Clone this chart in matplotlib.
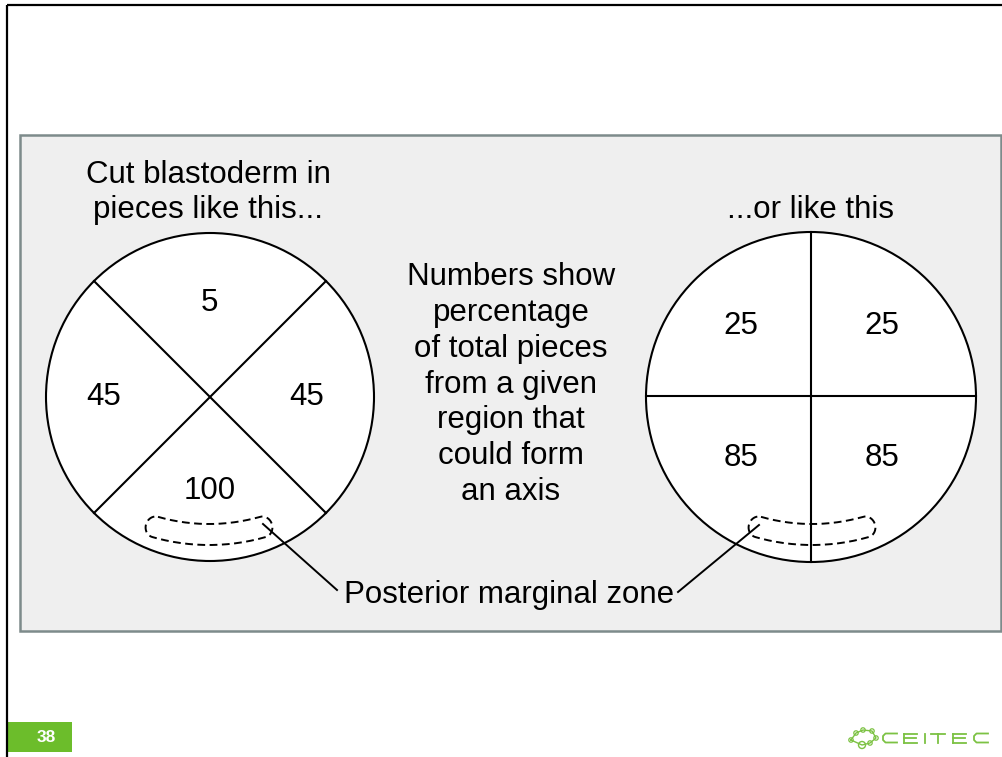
import numpy as np
import matplotlib
matplotlib.use("Agg")
import matplotlib.pyplot as plt
from matplotlib.patches import Circle, Rectangle

plt.rcParams['font.family'] = ['Liberation Sans', 'DejaVu Sans']

# ---- data ----
left_title = ["Cut blastoderm in", "pieces like this..."]
right_title = "...or like this"
left_values = [5, 45, 100, 45]          # top, left, bottom, right
right_values = [25, 25, 85, 85]         # top-left, top-right, bottom-left, bottom-right
middle_text = ["Numbers show", "percentage", "of total pieces", "from a given",
               "region that", "could form", "an axis"]
zone_label = "Posterior marginal zone"
slide_number = "38"
logo_text = "CEITEC"

W, H = 1003, 757
fig = plt.figure(figsize=(W / 100, H / 100), dpi=100)
ax = fig.add_axes([0, 0, 1, 1])
ax.set_xlim(0, W)
ax.set_ylim(H, 0)
ax.axis('off')

# slide frame
ax.plot([7.5, 7.5], [5, H], color='black', lw=1.6, solid_capstyle='butt')
ax.plot([7, W], [5, 5], color='black', lw=1.6, solid_capstyle='butt')

# gray panel
ax.add_patch(Rectangle((20.5, 134.5), 981, 496.5, facecolor='#efefef',
                       edgecolor='#7d8b8b', lw=1.8))

FS = 22.5
lw = 1.5
DY = 3  # visual centering offset for text

# left circle
lc, lr = (210, 397), 164
ax.add_patch(Circle(lc, lr, facecolor='white', edgecolor='black', lw=lw))
for ang in (45, 135):
    a = np.deg2rad(ang)
    dx, dy = lr * np.cos(a), lr * np.sin(a)
    ax.plot([lc[0] - dx, lc[0] + dx], [lc[1] - dy, lc[1] + dy], color='black', lw=lw)
lpos = [(209, 300), (104, 394), (210, 488), (307, 394)]
for (x, y), v in zip(lpos, left_values):
    ax.text(x, y + DY, str(v), fontsize=FS, ha='center', va='center')

# right circle
rc, rr = (811, 397), 165
ax.add_patch(Circle(rc, rr, facecolor='white', edgecolor='black', lw=lw))
ax.plot([rc[0], rc[0]], [rc[1] - rr, rc[1] + rr], color='black', lw=lw)
ax.plot([rc[0] - rr, rc[0] + rr], [rc[1] - 1, rc[1] - 1], color='black', lw=lw)
rpos = [(741, 323), (882, 323), (741, 455), (882, 455)]
for (x, y), v in zip(rpos, right_values):
    ax.text(x, y + DY, str(v), fontsize=FS, ha='center', va='center')


# dashed posterior marginal zone loops
def zone_loop(cx):
    c = (cx, 339)
    r1, r2 = 185, 206
    span = np.deg2rad(16)
    th = np.linspace(-span, span, 60)
    top = np.column_stack([c[0] + r1 * np.sin(th), c[1] + r1 * np.cos(th)])
    bot = np.column_stack([c[0] + r2 * np.sin(th[::-1]), c[1] + r2 * np.cos(th[::-1])])
    rm = (r1 + r2) / 2
    hr = (r2 - r1) / 2

    def cap(sign):
        t0 = sign * span
        ex, ey = c[0] + rm * np.sin(t0), c[1] + rm * np.cos(t0)
        ux, uy = np.sin(t0), np.cos(t0)
        tx, ty = sign * np.cos(t0), -sign * np.sin(t0)
        phi = np.linspace(-np.pi / 2, np.pi / 2, 20)
        xs = ex + hr * np.sin(phi) * ux + hr * 0.9 * np.cos(phi) * tx
        ys = ey + hr * np.sin(phi) * uy + hr * 0.9 * np.cos(phi) * ty
        return np.column_stack([xs, ys])

    capR = cap(1)
    capL = cap(-1)[::-1]
    pts = np.vstack([top, capR, bot, capL, top[:1]])
    ax.plot(pts[:, 0], pts[:, 1], color='black', lw=1.4, dashes=(4, 2.3))


zone_loop(209)
zone_loop(812)

# leader lines
ax.plot([263, 337], [524, 590], color='black', lw=1.4)
ax.plot([759, 678], [525, 592], color='black', lw=1.4)

# texts
ax.text(208, 172 + DY, left_title[0], fontsize=FS, ha='center', va='center')
ax.text(208, 207 + DY, left_title[1], fontsize=FS, ha='center', va='center')
ax.text(811, 207 + DY, right_title, fontsize=FS, ha='center', va='center')
ys = np.linspace(274, 489, len(middle_text))
for y, t in zip(ys, middle_text):
    ax.text(511, y + DY, t, fontsize=FS, ha='center', va='center')
ax.text(509, 592 + DY, zone_label, fontsize=FS, ha='center', va='center')

# slide number box
ax.add_patch(Rectangle((8, 722), 64, 30, facecolor='#6cbd2b', edgecolor='none'))
ax.text(46, 738, slide_number, fontsize=12.5, color='white', fontweight='bold',
        ha='center', va='center')

# CEITEC logo
green = '#7cc243'
nodes = np.array([[851, 740], [856, 733], [863, 730], [872, 731], [876, 738], [870, 743], [862, 745]])
ax.plot(np.append(nodes[:, 0], nodes[0, 0]), np.append(nodes[:, 1], nodes[0, 1]),
        color=green, lw=1.0)
for (x, y) in nodes:
    ax.add_patch(Circle((x, y), 2.2, facecolor='white', edgecolor=green, lw=0.9))
ax.add_patch(Circle((862, 745), 3.5, facecolor='white', edgecolor=green, lw=1.0))

top_y, bot_y = 733.5, 742.5
mid_y = (top_y + bot_y) / 2
lw_logo = 1.3
letter_x = [883, 904, 925, 931, 953, 974]
letter_w = 14
for ch, x0 in zip(logo_text, letter_x):
    w = letter_w
    if ch == 'C':
        r = 2.5
        ax.plot([x0 + w, x0 + r, x0, x0, x0 + r, x0 + w],
                [top_y, top_y, top_y + r, bot_y - r, bot_y, bot_y], color=green, lw=lw_logo)
    elif ch == 'E':
        w = 13
        ax.plot([x0, x0 + w], [top_y, top_y], color=green, lw=lw_logo)
        ax.plot([x0, x0 + w - 1], [mid_y, mid_y], color=green, lw=lw_logo)
        ax.plot([x0, x0 + w], [bot_y, bot_y], color=green, lw=lw_logo)
        ax.plot([x0, x0], [top_y, bot_y], color=green, lw=lw_logo)
    elif ch == 'I':
        ax.plot([x0, x0], [top_y, bot_y], color=green, lw=lw_logo)
    elif ch == 'T':
        ax.plot([x0, x0 + w], [top_y, top_y], color=green, lw=lw_logo)
        ax.plot([x0 + w / 2, x0 + w / 2], [top_y, bot_y], color=green, lw=lw_logo)

fig.savefig('out.png', dpi=100)
